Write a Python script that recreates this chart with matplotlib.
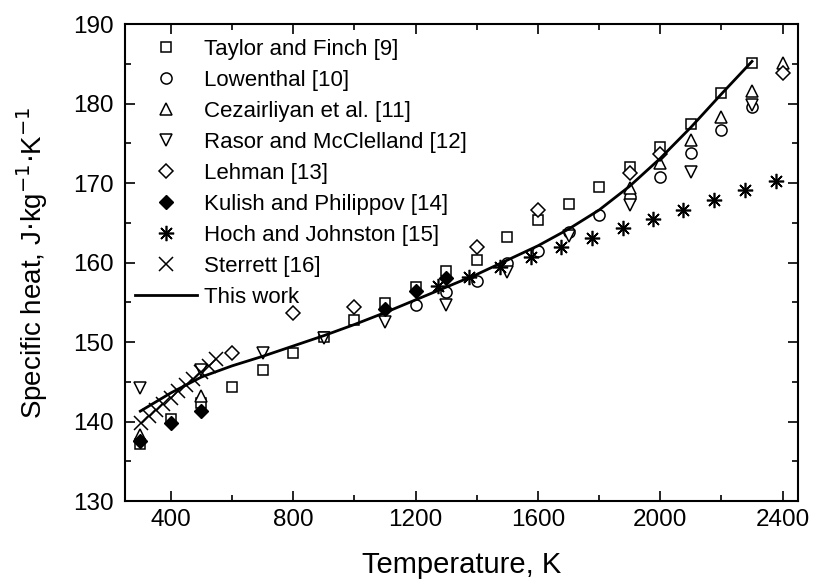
import matplotlib
matplotlib.use("Agg")
import matplotlib.pyplot as plt
from matplotlib.ticker import MultipleLocator

plt.rcParams['font.family'] = ['Liberation Sans', 'DejaVu Sans']

# Taylor and Finch [9]
taylor_T = [300, 400, 500, 600, 700, 800, 900, 1000, 1100, 1200, 1300, 1400, 1500,
            1600, 1700, 1800, 1900, 2000, 2100, 2200, 2300]
taylor_cp = [137.2, 140.3, 142.3, 144.3, 146.5, 148.6, 150.6, 152.8, 154.9, 156.9, 158.9,
             160.3, 163.2, 165.3, 167.4, 169.5, 172.0, 174.5, 177.4, 181.3, 185.1]
# Lowenthal [10]
lowen_T = [1200, 1300, 1400, 1500, 1600, 1700, 1800, 1900, 2000, 2100, 2200, 2300]
lowen_cp = [154.7, 156.3, 157.7, 159.9, 161.4, 163.8, 166.0, 168.3, 170.8, 173.8, 176.7, 179.5]
# Cezairliyan et al. [11]
cez_T = [300, 500, 1900, 2000, 2100, 2200, 2300, 2400]
cez_cp = [138.3, 143.2, 169.4, 172.5, 175.4, 178.3, 181.6, 185.1]
# Rasor and McClelland [12]
rasor_T = [300, 500, 700, 900, 1100, 1300, 1500, 1700, 1900, 2100, 2300]
rasor_cp = [144.2, 146.5, 148.6, 150.5, 152.5, 154.7, 158.8, 163.3, 167.2, 171.4, 179.8]
# Lehman [13]
lehman_T = [600, 800, 1000, 1400, 1600, 1900, 2000, 2400]
lehman_cp = [148.6, 153.6, 154.4, 162.0, 166.6, 171.3, 173.6, 183.9]
# Kulish and Philippov [14]
kulish_T = [300, 400, 500, 1100, 1200, 1300]
kulish_cp = [137.6, 139.8, 141.3, 154.2, 156.4, 158.1]
# Hoch and Johnston [15]
hoch_T = [1274, 1374, 1475, 1576, 1677, 1778, 1877, 1977, 2076, 2175, 2276, 2377]
hoch_cp = [157.0, 158.2, 159.4, 160.7, 162.0, 163.1, 164.3, 165.5, 166.6, 167.9, 169.1, 170.3]
# Sterrett [16]
sterrett_T = [302, 328, 351, 374, 400, 423, 449, 471, 497, 523, 546]
sterrett_cp = [139.8, 140.7, 141.5, 142.2, 143.0, 143.8, 144.6, 145.3, 146.2, 147.0, 147.8]
# This work
work_T = [300, 400, 500, 600, 700, 800, 900, 1000, 1100, 1200, 1300, 1400, 1500,
          1600, 1700, 1800, 1900, 2000, 2100, 2200, 2300]
work_cp = [141.3, 143.6, 145.6, 147.0, 148.2, 149.5, 150.8, 152.2, 153.7, 155.3, 156.9,
           158.5, 160.3, 162.1, 164.2, 166.6, 169.6, 173.1, 177.0, 181.2, 185.3]

fig = plt.figure(figsize=(8.14, 5.80), dpi=100)
ax = fig.add_axes([0.1536, 0.1362, 0.8266, 0.8224])

open_kw = dict(linestyle='none', markerfacecolor='white', markeredgecolor='black',
               markeredgewidth=1.1, color='black')

ax.plot(taylor_T, taylor_cp, marker='s', markersize=7.5, label='Taylor and Finch [9]', **open_kw)
ax.plot(lowen_T, lowen_cp, marker='o', markersize=8, label='Lowenthal [10]', **open_kw)
ax.plot(cez_T, cez_cp, marker='^', markersize=9, label='Cezairliyan et al. [11]', **open_kw)
ax.plot(rasor_T, rasor_cp, marker='v', markersize=9, label='Rasor and McClelland [12]', **open_kw)
ax.plot(lehman_T, lehman_cp, marker='D', markersize=7, label='Lehman [13]', **open_kw)
ax.plot(kulish_T, kulish_cp, marker='D', markersize=7, linestyle='none', color='black',
        markerfacecolor='black', markeredgecolor='black', label='Kulish and Philippov [14]')
ax.plot(hoch_T, hoch_cp, marker=(8, 2, 0), markersize=11, linestyle='none', color='black',
        markeredgewidth=1.2, label='Hoch and Johnston [15]')
ax.plot(sterrett_T, sterrett_cp, marker='x', markersize=10, linestyle='none', color='black',
        markeredgewidth=1.1, label='Sterrett [16]')
ax.plot(work_T, work_cp, color='black', linewidth=2, label='This work')

ax.set_xlim(250, 2450)
ax.set_ylim(130, 190)
ax.xaxis.set_major_locator(MultipleLocator(400))
ax.xaxis.set_minor_locator(MultipleLocator(200))
ax.yaxis.set_major_locator(MultipleLocator(10))
ax.yaxis.set_minor_locator(MultipleLocator(5))
ax.tick_params(which='both', direction='in', top=True, right=True, labelsize=17.5, width=1.2)
ax.tick_params(which='major', length=7)
ax.tick_params(which='minor', length=4)
ax.tick_params(axis='y', which='both', pad=8)
ax.tick_params(axis='x', which='both', pad=6)
for s in ax.spines.values():
    s.set_linewidth(1.5)

ax.set_xlabel('Temperature, K', fontsize=21)
ax.set_ylabel('Specific heat, J$\\cdot$kg$^{-1}$$\\cdot$K$^{-1}$', fontsize=20)
ax.xaxis.set_label_coords(0.5, -0.134)
ax.xaxis.label.set_va('center')
ax.yaxis.set_label_coords(-0.138, 0.5)
ax.yaxis.label.set_va('center')

leg = ax.legend(loc='upper left', bbox_to_anchor=(0.015, 0.968), frameon=False, fontsize=16,
                handlelength=2.8, handletextpad=0.3, labelspacing=0.45, borderpad=0,
                borderaxespad=0)

fig.savefig('out.png', dpi=100)
